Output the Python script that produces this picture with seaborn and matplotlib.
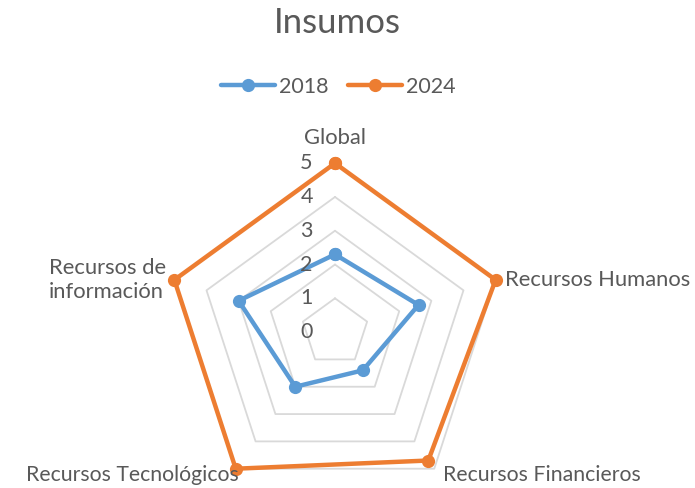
import numpy as np
import pandas as pd
import matplotlib.pyplot as plt
import seaborn as sns

# datos
categorias = ["Global", "Recursos Humanos", "Recursos Financieros",
              "Recursos Tecnológicos", "Recursos de\ninformación"]
valores_2018 = [2.3, 2.6, 1.4, 2.0, 3.0]
valores_2024 = [5.0, 5.0, 4.7, 5.0, 5.0]
anios = ["2018", "2024"]
niveles = [0, 1, 2, 3, 4, 5]

sns.set_theme(style="white")
plt.rcParams["font.family"] = ["Lato", "DejaVu Sans"]
gris = "#595959"
colores = {"2018": "#5B9BD5", "2024": "#ED7D31"}

n = len(categorias)
ang = np.linspace(0, 2 * np.pi, n, endpoint=False)
ang_c = np.append(ang, ang[0])

filas = []
for anio, vals in zip(anios, [valores_2018, valores_2024]):
    vc = list(vals) + [vals[0]]
    for a, v in zip(ang_c, vc):
        filas.append({"ang": a, "valor": v, "anio": anio})
df = pd.DataFrame(filas)

fig = plt.figure(figsize=(6.95, 4.88), dpi=100)
ax = fig.add_axes([0.239, -0.027, 0.486, 0.693], projection="polar")
ax.set_theta_offset(np.pi / 2)
ax.set_theta_direction(-1)
ax.set_ylim(0, 5)
ax.grid(False)
ax.spines["polar"].set_visible(False)
ax.set_xticks([])
ax.set_yticks([])
ax.patch.set_alpha(0)

# rejilla pentagonal
for lv in niveles[1:]:
    ax.plot(ang_c, [lv] * (n + 1), color="#d9d9d9", lw=1.3, zorder=1, clip_on=False)

sns.lineplot(data=df, x="ang", y="valor", hue="anio", palette=colores,
             sort=False, estimator=None, marker="o", markersize=9.5,
             markeredgewidth=0, lw=3.2, ax=ax, zorder=3)
for ln in ax.lines:
    ln.set_clip_on(False)
ax.set_xlabel("")
ax.set_ylabel("")

# etiquetas del eje radial
for lv in niveles:
    ax.annotate(str(lv), xy=(0, lv), xytext=(-16, 0), textcoords="offset points",
                ha="right", va="center", fontsize=15.5, color=gris)

# etiquetas de categorías
pos = [((0, 11), "center", "bottom", 15.8),
       ((7, 0), "left", "center", 15.8),
       ((6, -8.6), "left", "baseline", 15.3),
       ((2, -8.6), "right", "baseline", 15.3),
       ((-6, 0), "right", "center", 15.8)]
for a, cat, (off, ha, va, fs) in zip(ang, categorias, pos):
    ax.annotate(cat, xy=(a, 5), xytext=off, textcoords="offset points",
                ha=ha, va=va, fontsize=fs, color=gris, multialignment="left",
                linespacing=1.25)

fig.text(0.485, 0.953, "Insumos", ha="center", va="center", fontsize=25, color=gris)

sns.move_legend(ax, "center", bbox_to_anchor=(0.487, 0.822),
                bbox_transform=fig.transFigure, ncol=2, frameon=False,
                title=None, fontsize=15.5, handlelength=2.5, columnspacing=0.9,
                handletextpad=0.2, labelcolor=gris)

fig.savefig("out.png", dpi=100)
